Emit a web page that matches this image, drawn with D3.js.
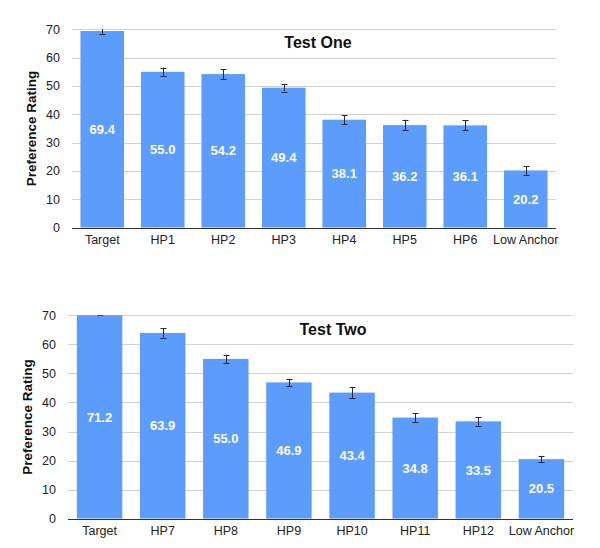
<!DOCTYPE html>
<html>
<head>
<meta charset="utf-8">
<script src="https://d3js.org/d3.v7.min.js"></script>
<style>
  body { margin: 0; background: #fff; }
  text { font-family: "Liberation Sans", Arial, Helvetica, sans-serif; }
</style>
</head>
<body>
<script>
  // Data
  var yTicks = [0, 10, 20, 30, 40, 50, 60, 70];

  var cats1 = ["Target", "HP1", "HP2", "HP3", "HP4", "HP5", "HP6", "Low Anchor"];
  var vals1 = [69.4, 55.0, 54.2, 49.4, 38.1, 36.2, 36.1, 20.2];
  var errs1 = [1.0, 1.5, 1.8, 1.35, 1.6, 1.9, 1.75, 1.5];

  var cats2 = ["Target", "HP7", "HP8", "HP9", "HP10", "HP11", "HP12", "Low Anchor"];
  var vals2 = [71.2, 63.9, 55.0, 46.9, 43.4, 34.8, 33.5, 20.5];
  var errs2 = [1.1, 1.6, 1.4, 1.3, 1.8, 1.6, 1.5, 1.15];

  var BAR_COLOR = "#5b9cfc";
  var GRID_COLOR = "#d2d2d2";

  var svg = d3.select("body").append("svg")
    .attr("width", 600)
    .attr("height", 548);

  function drawPanel(id, cats, vals, errs, title, box) {
    var g = svg.append("g");

    var x = d3.scaleBand()
      .domain(cats)
      .range([box.left, box.right])
      .paddingInner(0.28)
      .paddingOuter(0.14);

    var y = d3.scaleLinear()
      .domain([0, 70])
      .range([box.bottom, box.top]);

    // clip to plot area (values above 70 get cut off)
    svg.append("clipPath").attr("id", id)
      .append("rect")
      .attr("x", box.left).attr("y", box.top)
      .attr("width", box.right - box.left).attr("height", box.bottom - box.top);

    // gridlines
    g.selectAll(".grid").data(yTicks.filter(function(d) { return d > 0; }))
      .enter().append("line")
      .attr("x1", box.left).attr("x2", box.right)
      .attr("y1", function(d) { return Math.round(y(d)) + 0.5; })
      .attr("y2", function(d) { return Math.round(y(d)) + 0.5; })
      .attr("stroke", GRID_COLOR)
      .attr("stroke-width", 1);

    // tick labels
    g.selectAll(".ytick").data(yTicks)
      .enter().append("text")
      .attr("x", box.tickX)
      .attr("y", function(d) { return y(d); })
      .attr("dy", "0.35em")
      .attr("text-anchor", "end")
      .attr("font-size", "12.5px")
      .attr("fill", "#222")
      .text(function(d) { return d; });

    var plot = g.append("g").attr("clip-path", "url(#" + id + ")");

    // bars
    plot.selectAll("rect.bar").data(vals)
      .enter().append("rect")
      .attr("class", "bar")
      .attr("x", function(d, i) { return x(cats[i]); })
      .attr("width", x.bandwidth())
      .attr("y", function(d) { return y(d); })
      .attr("height", function(d) { return y(0) - y(d); })
      .attr("fill", BAR_COLOR);

    // error bars
    var eb = plot.selectAll("g.err").data(vals)
      .enter().append("g")
      .attr("stroke", "#2a2a2a")
      .attr("stroke-width", 1);
    var cx = function(i) { return Math.round(x(cats[i]) + x.bandwidth() / 2) + 0.5; };
    eb.append("line")
      .attr("x1", function(d, i) { return cx(i); })
      .attr("x2", function(d, i) { return cx(i); })
      .attr("y1", function(d, i) { return y(d + errs[i]); })
      .attr("y2", function(d, i) { return y(d - errs[i]); });
    eb.append("line")
      .attr("x1", function(d, i) { return cx(i) - 3; })
      .attr("x2", function(d, i) { return cx(i) + 3; })
      .attr("y1", function(d, i) { return Math.round(y(d + errs[i])) + 0.5; })
      .attr("y2", function(d, i) { return Math.round(y(d + errs[i])) + 0.5; });
    eb.append("line")
      .attr("x1", function(d, i) { return cx(i) - 3; })
      .attr("x2", function(d, i) { return cx(i) + 3; })
      .attr("y1", function(d, i) { return Math.round(y(d - errs[i])) + 0.5; })
      .attr("y2", function(d, i) { return Math.round(y(d - errs[i])) + 0.5; });

    // value labels in the middle of the visible bar
    g.selectAll("text.val").data(vals)
      .enter().append("text")
      .attr("x", function(d, i) { return x(cats[i]) + x.bandwidth() / 2; })
      .attr("y", function(d) { return y(Math.min(d, 70) / 2); })
      .attr("dy", "0.35em")
      .attr("text-anchor", "middle")
      .attr("font-size", "13px")
      .attr("font-weight", "bold")
      .attr("fill", "#fff")
      .text(function(d) { return d.toFixed(1); });

    // x axis line
    g.append("line")
      .attr("x1", box.left).attr("x2", box.right)
      .attr("y1", Math.round(y(0)) + 0.5).attr("y2", Math.round(y(0)) + 0.5)
      .attr("stroke", "#333")
      .attr("stroke-width", 1.2);

    // category labels
    g.selectAll("text.cat").data(cats)
      .enter().append("text")
      .attr("x", function(d) { return x(d) + x.bandwidth() / 2; })
      .attr("y", box.catY)
      .attr("text-anchor", "middle")
      .attr("font-size", "12.5px")
      .attr("fill", "#222")
      .text(function(d) { return d; });

    // title
    g.append("text")
      .attr("x", box.titleX)
      .attr("y", box.titleY)
      .attr("text-anchor", "middle")
      .attr("font-size", "16px")
      .attr("font-weight", "bold")
      .attr("fill", "#111")
      .text(title);

    // y axis title
    g.append("text")
      .attr("transform", "translate(" + box.yTitleX + "," + (box.top + box.bottom) / 2 + ") rotate(-90)")
      .attr("text-anchor", "middle")
      .attr("font-size", "13.5px")
      .attr("font-weight", "bold")
      .attr("fill", "#111")
      .text("Preference Rating");
  }

  drawPanel("clip1", cats1, vals1, errs1, "Test One",
    { left: 72, right: 556, top: 29.3, bottom: 227.7, tickX: 60, catY: 244,
      titleX: 318, titleY: 48, yTitleX: 36 });

  drawPanel("clip2", cats2, vals2, errs2, "Test Two",
    { left: 68, right: 573, top: 315.3, bottom: 518.7, tickX: 56, catY: 535,
      titleX: 333, titleY: 335, yTitleX: 32 });
</script>
</body>
</html>
